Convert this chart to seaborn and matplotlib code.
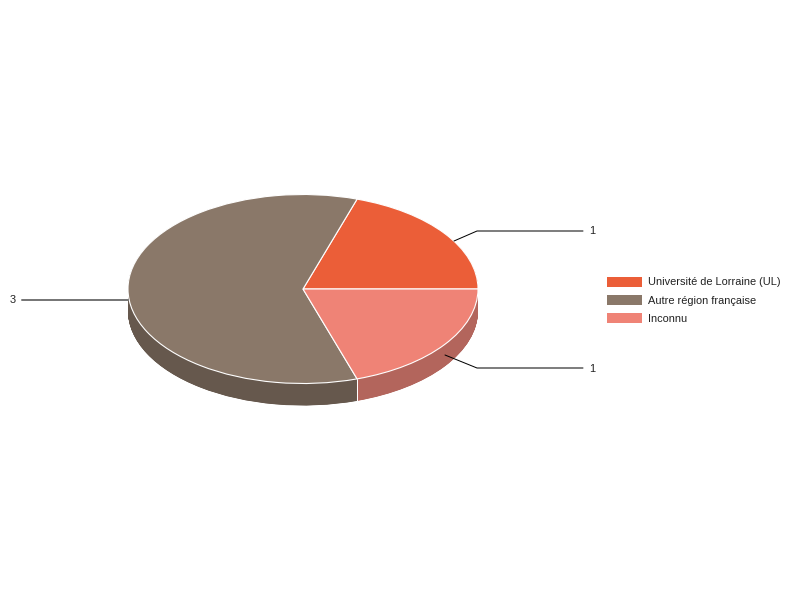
"""
plot.py - tilted pie of origins, drawn with stacked matplotlib pies
"""
import matplotlib
matplotlib.use("Agg")
import matplotlib.pyplot as plt
from matplotlib.patches import Patch
import numpy as np
import seaborn as sns

# --- data ---
categories = ["Université de Lorraine (UL)", "Autre région française", "Inconnu"]
values = [1, 3, 1]
value_labels = ["1", "3", "1"]
colors = ["#EB5E38", "#8A7869", "#EF8376"]
side_colors = ["#B04A2C", "#66584D", "#B3655C"]

# --- geometry, in pixels of the 800x600 image ---
W, H = 800, 600
CX, CY = 303, 289
RX, RY = 175, 94.5
DEPTH = 22


def to_data(px, py):
    return (px - CX) / RX, (CY - py) / RY


sns.set_theme(style="white")
plt.rcParams["font.family"] = ["Liberation Sans", "DejaVu Sans"]

fig = plt.figure(figsize=(W / 100, H / 100), dpi=100)
ax = fig.add_axes([0, 0, 1, 1])

# side wall: same pie repeated downwards, bottom first
for d in np.arange(DEPTH, 0, -0.25):
    ax.pie(values, colors=side_colors, startangle=0, counterclock=True,
           center=(0, -d / RY), radius=1, frame=True,
           wedgeprops={"linewidth": 0, "antialiased": True})

# top face
ax.pie(values, colors=colors, startangle=0, counterclock=True,
       center=(0, 0), radius=1, frame=True,
       wedgeprops={"edgecolor": "white", "linewidth": 0.8})

ax.set_aspect("auto")
ax.set_xlim(to_data(0, 0)[0], to_data(W, 0)[0])
ax.set_ylim(to_data(0, H)[1], to_data(0, 0)[1])
ax.axis("off")

# white seam on the wall where the two visible slices meet
seam = np.deg2rad(360 * (values[0] + values[1]) / sum(values))
ax.plot([np.cos(seam)] * 2, [np.sin(seam), np.sin(seam) - DEPTH / RY],
        color="white", lw=0.72, zorder=5)

# leader lines and value labels
leaders = [
    ([(454, 241), (477, 231), (583, 231)], (589.5, 231.5), "left", "black", 0.72),
    ([(128, 299.5), (22, 299.5)], (16, 300), "right", "#777777", 1.44),
    ([(445, 355), (477, 368), (583, 368)], (589.5, 368.5), "left", "black", 0.72),
]
for (points, text_at, ha, line_color, line_w), label in zip(leaders, value_labels):
    xs, ys = zip(*[to_data(*p) for p in points])
    ax.plot(xs, ys, color=line_color, lw=line_w, zorder=6)
    tx, ty = to_data(*text_at)
    ax.text(tx, ty, label, ha=ha, va="center", fontsize=7.9, color="#222222", zorder=6)

# legend
handles = [Patch(facecolor=c, edgecolor="none") for c in colors]
fig.legend(handles, categories, loc="upper left",
           bbox_to_anchor=(607 / W, 1 - 276.5 / H), borderaxespad=0, borderpad=0,
           frameon=False, fontsize=7.9, handlelength=3.19, handleheight=1.05,
           handletextpad=0.55, labelspacing=0.68, labelcolor="#222222")

fig.savefig("out.png", dpi=100)
